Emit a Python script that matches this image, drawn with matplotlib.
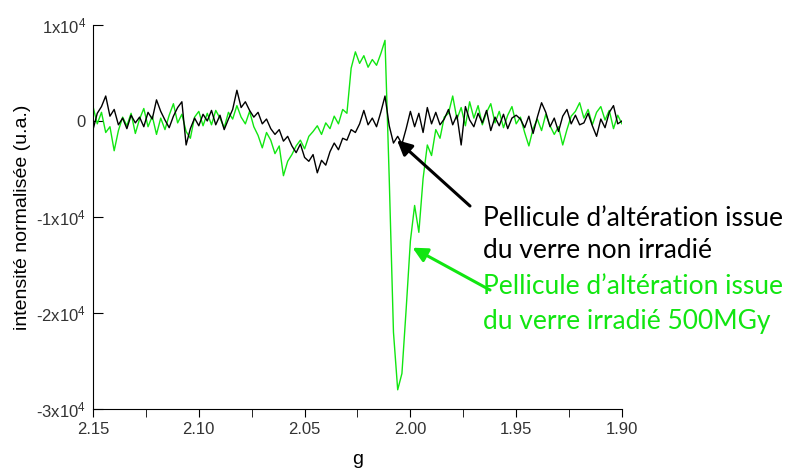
import numpy as np
import matplotlib.pyplot as plt

plt.rcParams['font.family'] = ['Liberation Sans', 'DejaVu Sans']
plt.rcParams['mathtext.default'] = 'regular'

# g axis sampling (spectrum grid, 2.150 -> 1.900)
g = np.linspace(2.150, 1.900, 126)

# intensity values, in units of 1e3
non_irr = [-0.9, 0.8, 1.5, 2.6, 0.5, 1.2, -0.4, 0.3, -0.8, 0.6,
           -0.2, 0.4, -0.6, 0.9, 0.2, 2.2, 1.0, 0.1, -0.7, 0.5,
           1.4, 2.0, -2.5, -0.8, 0.3, -0.5, 0.7, 0.0, 1.1, -0.4,
           0.6, -0.9, 0.2, 1.2, 3.2, 1.4, 2.0, 1.1, 0.4, 0.9,
           -0.3, 0.2, -0.8, -1.4, -0.9, -2.1, -1.6, -2.6, -3.3, -2.4,
           -3.8, -4.2, -3.5, -5.4, -4.1, -4.6, -3.2, -2.3, -3.0, -1.8,
           -2.0, -0.9, -1.2, -0.3, 1.1, -0.4, 0.3, -0.6, 0.9, 2.6,
           -0.5, -2.3, -1.6, -2.4, -0.8, 1.0, -0.6, 0.8, -1.2, 1.4,
           -0.3, 0.9, -0.4, 0.2, 1.2, -0.4, 0.6, -2.5, 1.5, 0.1,
           -0.6, 0.8, -0.2, 1.1, -1.0, 0.4, -0.5, 0.7, -0.8, 0.3,
           0.6, 0.2, -0.7, 0.5, -1.3, 0.4, 1.9, 0.9, -0.6, 0.3,
           -1.1, 0.5, 1.2, -0.3, 0.6, -0.4, -0.2, 0.8, -0.5, -1.6,
           0.2, -0.7, 0.9, 1.6, -0.3, 0.0]

irr_500 = [1.5, -0.3, 0.9, -1.2, -0.6, -3.1, -1.0, 0.4, -0.5, 0.8,
           -1.3, 0.2, 1.3, -0.6, 0.5, -1.4, 0.3, -0.9, 0.6, 1.8,
           -0.2, 0.7, -1.1, -1.8, 0.4, 1.0, -0.5, 0.8, -0.4, 1.1,
           0.3, -0.7, 0.9, 0.2, 1.6, 0.4, -0.3, 1.0, -0.6, -1.5,
           -2.8, -1.2, -2.0, -3.4, -2.6, -5.7, -4.2, -3.5, -2.6, -2.0,
           -2.9, -1.6, -1.1, -0.5, -1.4, -0.2, -0.8, 0.5, -0.3, 1.2,
           0.8, 5.5, 7.2, 6.0, 6.8, 5.6, 6.4, 5.8, 7.0, 8.4,
           -6.0, -22.0, -28.0, -26.3, -19.6, -12.5, -8.8, -11.6, -6.0, -2.5,
           -3.6, -0.9, -1.8, 0.4, 0.8, 2.6, 0.2, 1.4, -0.5, 2.0,
           0.3, 1.6, -0.4, 0.9, 1.8, -0.2, 1.0, -0.7, 0.6, 1.5,
           -0.3, 0.4, -1.2, -2.6, -0.8, 0.2, -1.0, 0.7, -0.5, -1.4,
           -0.6, -2.5, -0.9, 0.5, 1.0, 1.9, 0.3, 1.2, -0.4, 0.9,
           1.5, 0.1, 1.1, -0.8, 0.6, -0.3]

yticks = [1e4, 0, -1e4, -2e4, -3e4]
ytick_labels = ['1x10$^4$', '0', '-1x10$^4$', '-2x10$^4$', '-3x10$^4$']
xticks = [2.15, 2.10, 2.05, 2.00, 1.95, 1.90]

green = '#11e611'

fig = plt.figure(figsize=(7.87, 4.72), dpi=100)
ax = fig.add_axes([0.1182, 0.1335, 0.6721, 0.8136])

ax.plot(g, np.array(irr_500) * 1000, color=green, lw=1.0)
ax.plot(g, np.array(non_irr) * 1000, color='black', lw=1.0)

ax.set_xlim(2.15, 1.90)
ax.set_ylim(-3e4, 1e4)
ax.set_xticks(xticks)
ax.set_xticklabels(['%.2f' % t for t in xticks])
ax.set_xticks([2.125, 2.075, 2.025, 1.975, 1.925], minor=True)
ax.set_yticks(yticks)
ax.set_yticklabels(ytick_labels)

ax.spines['top'].set_visible(False)
ax.spines['right'].set_visible(False)
ax.tick_params(axis='x', which='both', direction='out', length=6, labelsize=12,
               labelcolor='#333333')
ax.tick_params(axis='y', direction='in', length=7, labelsize=12,
               labelcolor='#333333', pad=5)

ax.set_xlabel('g', fontsize=14, labelpad=10)
ax.set_ylabel('intensité normalisée (u.a.)', fontsize=14, labelpad=4)

txt = dict(family=['Lato', 'DejaVu Sans'], fontsize=19, va='center', ha='left')
fig.text(483 / 787, 1 - 218 / 472, 'Pellicule d\u2019altération issue', color='black', **txt)
fig.text(483 / 787, 1 - 250 / 472, 'du verre non irradié', color='black', **txt)
fig.text(483 / 787, 1 - 287 / 472, 'Pellicule d\u2019altération issue', color=green, **txt)
fig.text(483 / 787, 1 - 322 / 472, 'du verre irradié 500MGy', color=green, **txt)

ax.annotate('', xy=(2.0063, -2000), xycoords='data',
            xytext=(470, 472 - 206), textcoords='figure pixels',
            arrowprops=dict(arrowstyle='-|>', color='black', lw=2.2,
                            mutation_scale=22, shrinkA=0, shrinkB=0))
ax.annotate('', xy=(1.9990, -13200), xycoords='data',
            xytext=(490, 472 - 290), textcoords='figure pixels',
            arrowprops=dict(arrowstyle='-|>', color=green, lw=2.2,
                            mutation_scale=22, shrinkA=0, shrinkB=0))

fig.savefig('out.png', dpi=100)
